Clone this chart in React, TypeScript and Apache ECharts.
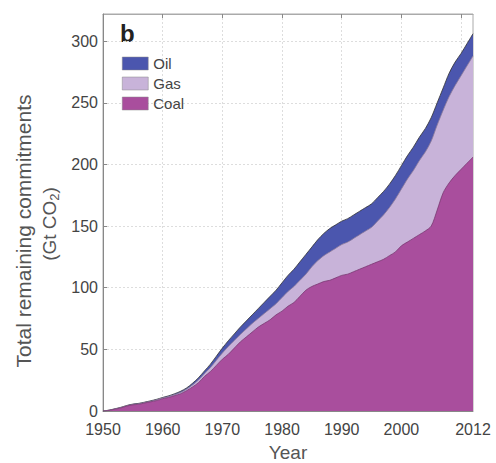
import React, { useEffect, useRef } from "react";
import * as echarts from "echarts";

const years: number[] = [];
for (let y = 1950; y <= 2012; y++) years.push(y);

const coal = [
  0, 0.5, 1.5, 2.5, 4, 5, 5.5, 6.5, 7.5, 8.5,
  10, 11, 12.5, 14, 16.5, 19.5, 23, 28, 32, 37,
  42, 46, 51, 56, 60, 64, 68, 71, 74, 78,
  81, 85, 88, 93, 98, 101, 103, 105, 106, 108,
  110, 111, 113, 115, 117, 119, 121, 123, 126, 129,
  134, 137, 140, 143, 146, 150, 163, 177, 185, 191,
  196, 201, 206,
];
const gas = [
  0, 0.1, 0.2, 0.3, 0.3, 0.3, 0.4, 0.4, 0.4, 0.6,
  0.5, 0.7, 0.8, 1.1, 1.2, 1.6, 2.2, 2.3, 3.2, 4.1,
  5, 6.3, 6.2, 6, 6.5, 7, 7, 8, 9, 9,
  11, 12, 13, 13, 13, 16, 19, 21, 23, 24,
  25, 26, 27, 28, 29, 30, 33, 36, 39, 43,
  46, 51, 55, 60, 64, 69, 69, 67, 70, 73,
  76, 79, 82,
];
const oil = [
  0, 0.1, 0.1, 0.2, 0.2, 0.3, 0.3, 0.3, 0.4, 0.4,
  0.5, 0.6, 0.7, 0.9, 1.0, 1.4, 1.8, 2.2, 2.8, 3.4,
  4, 4.7, 5.3, 6, 6.5, 7, 8, 9, 10, 11,
  12, 13, 14, 15, 16, 16, 17, 18, 19, 19,
  19, 19, 19, 19, 19, 19, 19, 19, 19, 19,
  19, 19, 19, 19, 19, 19, 18, 18, 19, 19,
  18, 18, 18,
];

const xLabelValues = [1950, 1960, 1970, 1980, 1990, 2000, 2012];
const xTickValues = [1950, 1960, 1970, 1980, 1990, 2000, 2010];
const legendNames = ["Oil", "Gas", "Coal"];

const COLORS: Record<string, string> = { Coal: "#a94e9d", Gas: "#c8b3d9", Oil: "#4b56ae" };
const FONT = "'Liberation Sans', Arial, sans-serif";

export default function App() {
  const ref = useRef<HTMLDivElement>(null);
  useEffect(() => {
    if (!ref.current) return;
    const chart = echarts.init(ref.current, undefined, { renderer: "svg" });
    // cumulative tops (stack built explicitly: coal, coal+gas, coal+gas+oil)
    const coalTop = coal.map((v) => v);
    const gasTop = coal.map((v, i) => v + gas[i]);
    const oilTop = coal.map((v, i) => v + gas[i] + oil[i]);
    const mk = (name: string, vals: number[], lineColor: string, z: number) => ({
      name,
      type: "line",
      smooth: 0.3,
      symbol: "none",
      z,
      data: years.map((y, i) => [y, vals[i]]),
      itemStyle: { color: COLORS[name] },
      lineStyle: { color: lineColor, width: 0.8 },
      areaStyle: { color: COLORS[name], opacity: 1 },
    });
    chart.setOption({
      animation: false,
      textStyle: { fontFamily: FONT },
      grid: {
        left: 103,
        top: 14,
        right: 23,
        bottom: 52,
        containLabel: false,
        outerBoundsMode: "none",
        show: true,
        borderColor: "#aaa",
        borderWidth: 1,
        backgroundColor: "transparent",
      },
      legend: {
        data: legendNames,
        orient: "vertical",
        left: 117,
        top: 51,
        itemWidth: 26,
        itemHeight: 13,
        itemGap: 5,
        icon: "rect",
        textStyle: { fontSize: 15, color: "#444", fontFamily: FONT },
        itemStyle: { borderColor: "#888", borderWidth: 0.5 },
      },
      graphic: [
        {
          type: "text",
          left: 120,
          top: 21,
          style: { text: "b", font: `bold 24px ${FONT}`, fill: "#222" },
        },
        {
          type: "text",
          x: 23,
          y: 231,
          rotation: Math.PI / 2,
          style: {
            text: "Total remaining commitments",
            font: `21px ${FONT}`,
            fill: "#555",
            align: "center",
            verticalAlign: "middle",
          },
        },
        {
          type: "text",
          x: 49,
          y: 224,
          rotation: Math.PI / 2,
          style: {
            text: "{a|(Gt CO}{s|2}{a|)}",
            fill: "#555",
            align: "center",
            verticalAlign: "middle",
            rich: {
              a: { font: `19px ${FONT}`, fill: "#555" },
              s: { font: `13px ${FONT}`, fill: "#555", padding: [10, 0, 0, 0] },
            },
          },
        },
      ],
      xAxis: [
        {
          type: "value",
          min: 1950,
          max: 2012,
          interval: 10,
          name: "Year",
          nameLocation: "middle",
          nameGap: 32,
          nameTextStyle: { fontSize: 19, color: "#555", fontFamily: FONT },
          axisLine: { show: true, lineStyle: { color: "#888" } },
          axisTick: { show: true, inside: true, length: 4, customValues: xTickValues, lineStyle: { color: "#888" } },
          axisLabel: {
            customValues: xLabelValues,
            formatter: (v: number) => String(v),
            fontSize: 16,
            color: "#444",
            margin: 10,
            fontFamily: FONT,
          },
          splitLine: { show: true, lineStyle: { color: "#ddd", type: [2, 2] } },
        },
        {
          type: "value",
          position: "top",
          min: 1950,
          max: 2012,
          interval: 10,
          axisLine: { show: true, lineStyle: { color: "#aaa" } },
          axisTick: { show: true, inside: true, length: 4, customValues: xTickValues, lineStyle: { color: "#888" } },
          axisLabel: { show: false },
          splitLine: { show: false },
        },
      ],
      yAxis: {
        type: "value",
        min: 0,
        max: 322,
        interval: 50,
        axisLine: { show: true, lineStyle: { color: "#888" } },
        axisTick: { show: true, inside: true, length: 4, lineStyle: { color: "#888" } },
        axisLabel: { fontSize: 16, color: "#444", margin: 5, fontFamily: FONT, showMaxLabel: false },
        splitLine: { show: true, lineStyle: { color: "#ddd", type: [2, 2] } },
      },
      series: [
        mk("Oil", oilTop, "#333", 2),
        mk("Gas", gasTop, "#8a7a99", 3),
        mk("Coal", coalTop, "#7a3a72", 4),
      ],
    });
    return () => chart.dispose();
  }, []);
  return (
    <div
      ref={ref}
      style={{ position: "absolute", left: 0, top: 0, width: 496, height: 463 }}
    />
  );
}
